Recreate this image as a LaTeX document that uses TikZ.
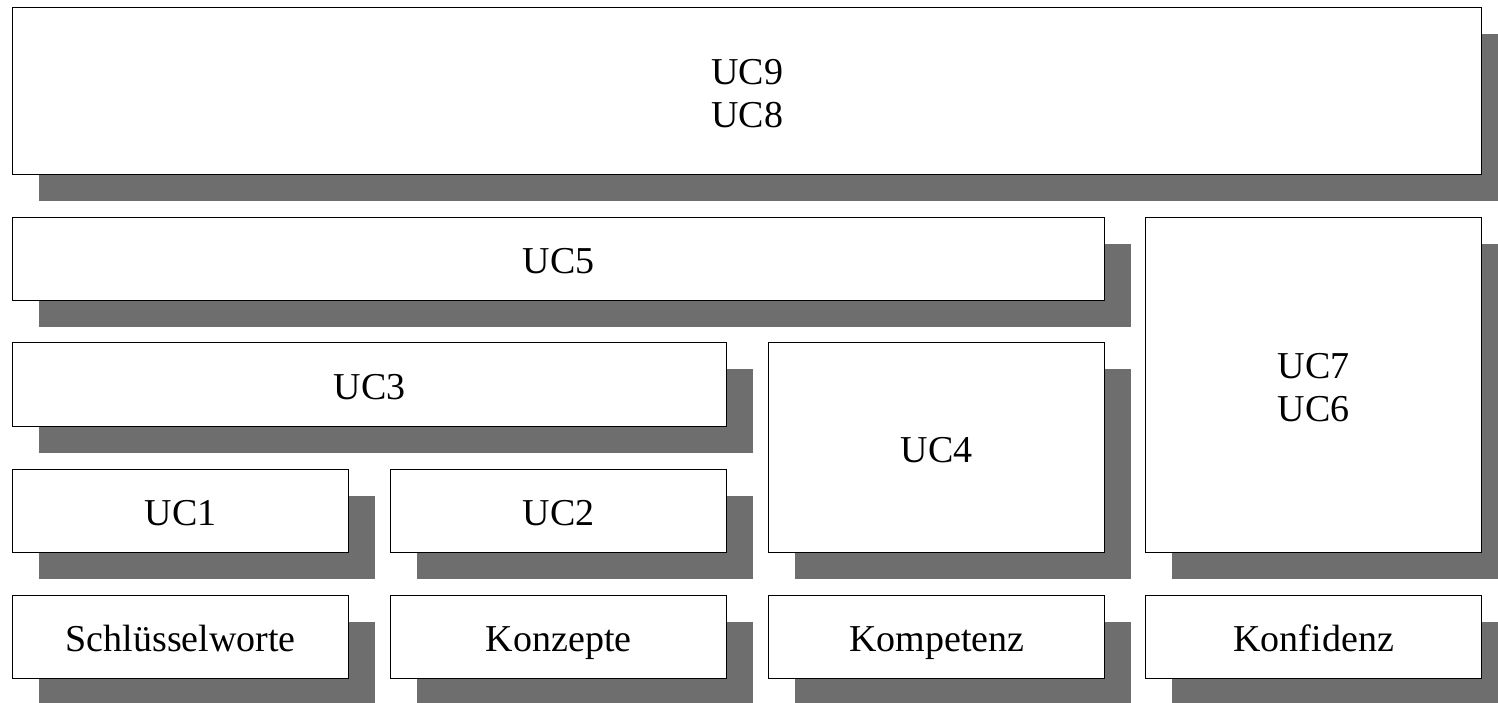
\documentclass[tikz,border=0pt]{standalone}
\usepackage{fontspec}
\setmainfont{Liberation Serif}
\usetikzlibrary{shadows}
\definecolor{shadowgray}{RGB}{110,110,110}
% one text line with a fixed height and depth, whatever its letters
\newcommand{\fixline}[1]{\smash{#1}\rule[-1pt]{0pt}{16.5pt}}
\begin{document}
\begin{tikzpicture}[x=0.5pt,y=-0.5pt,
  layer/.style={draw=black, line width=0.7pt, fill=white, anchor=north west,
    inner sep=0pt, align=center, font=\fontsize{19}{21.7}\selectfont,
    drop shadow={fill=shadowgray, opacity=1, shadow xshift=13pt, shadow yshift=-13pt}},
  sz/.style 2 args={minimum width=#1*0.5pt, minimum height=#2*0.5pt}]
\useasboundingbox (0,0) rectangle (1498,702);
% top level
\node[layer, sz={1469}{167}] (uc98) at (12,7) {\fixline{UC9}\\\fixline{UC8}};
% second level
\node[layer, sz={1092}{83}] (uc5) at (12,217) {\fixline{UC5}};
\node[layer, sz={336}{335}] (uc76) at (1145,217) {\fixline{UC7}\\\fixline{UC6}};
% third level
\node[layer, sz={714}{84}] (uc3) at (12,342) {\fixline{UC3}};
\node[layer, sz={336}{210}] (uc4) at (768,342) {\fixline{UC4}};
% fourth level
\node[layer, sz={336}{83}] (uc1) at (12,469) {\fixline{UC1}};
\node[layer, sz={336}{83}] (uc2) at (390,469) {\fixline{UC2}};
% base
\node[layer, sz={336}{83}] (schl) at (12,595) {\fixline{Schlüsselworte}};
\node[layer, sz={336}{83}] (konz) at (390,595) {\fixline{Konzepte}};
\node[layer, sz={336}{83}] (komp) at (768,595) {\fixline{Kompetenz}};
\node[layer, sz={336}{83}] (konf) at (1145,595) {\fixline{Konfidenz}};
\end{tikzpicture}
\end{document}
